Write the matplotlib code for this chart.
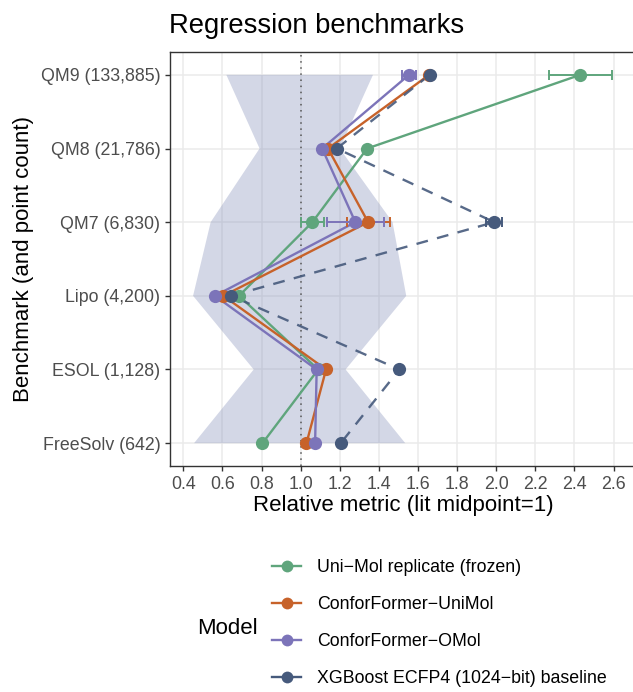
import numpy as np
import matplotlib
matplotlib.use("Agg")
from matplotlib import pyplot as plt
from matplotlib.lines import Line2D

plt.rcParams['font.family'] = ['Liberation Sans', 'DejaVu Sans']

benchmarks = ["QM9 (133,885)", "QM8 (21,786)", "QM7 (6,830)",
              "Lipo (4,200)", "ESOL (1,128)", "FreeSolv (642)"]

# literature range (relative to lit midpoint)
lit_low = [0.62, 0.79, 0.54, 0.45, 0.76, 0.455]
lit_high = [1.37, 1.20, 1.47, 1.54, 1.23, 1.535]

models = ["Uni\u2212Mol replicate (frozen)", "ConforFormer\u2212UniMol",
          "ConforFormer\u2212OMol", "XGBoost ECFP4 (1024\u2212bit) baseline"]
colors = ["#5FA57C", "#C7622A", "#7C74B9", "#465A7C"]
styles = ["-", "-", "-", (0, (5, 4))]

unimol = [2.43, 1.34, 1.06, 0.685, 1.09, 0.805]
unimol_err = [0.16, 0, 0.058, 0, 0, 0]
cf_unimol = [1.657, 1.14, 1.345, 0.605, 1.13, 1.03]
cf_unimol_err = [0, 0, 0.11, 0, 0, 0]
cf_omol = [1.554, 1.11, 1.28, 0.562, 1.082, 1.074]
cf_omol_err = [0.038, 0, 0.145, 0, 0, 0]
xgb = [1.66, 1.185, 1.99, 0.645, 1.505, 1.205]
xgb_err = [0, 0, 0.04, 0, 0, 0]

values = [unimol, cf_unimol, cf_omol, xgb]
errors = [unimol_err, cf_unimol_err, cf_omol_err, xgb_err]

W, H = 633, 692
fig = plt.figure(figsize=(W / 100, H / 100), dpi=100)
ax = fig.add_axes([170 / W, 1 - 466 / H, 466 / W, 414 / H])

ypos = np.arange(len(benchmarks))[::-1]

# shaded literature band
poly_x = list(lit_low) + list(lit_high)[::-1]
poly_y = list(ypos) + list(ypos)[::-1]
ax.fill(poly_x, poly_y, color=(140 / 255, 150 / 255, 190 / 255), alpha=0.38,
        lw=0, zorder=2)
ax.axvline(1.0, color="#555555", ls=(0, (1, 3)), lw=1.1, zorder=3)

for vals, errs, c, ls in zip(values, errors, colors, styles):
    vals = np.array(vals)
    errs = np.array(errs)
    ax.plot(vals, ypos, color=c, ls=ls, lw=1.7, zorder=4, alpha=0.9 if ls != "-" else 1)
    m = errs > 0
    ax.errorbar(vals[m], ypos[m], xerr=errs[m], fmt="none", ecolor=c,
                elinewidth=1.4, capsize=3.5, capthick=1.4, zorder=5)
    ax.plot(vals, ypos, ls="none", marker="o", ms=9.5, color=c, mec="none", zorder=6)

ax.set_xlim(0.332, 2.715)
ax.set_ylim(-0.31, 5.31)
ax.set_xticks(np.arange(0.4, 2.61, 0.2))
ax.set_xticklabels([f"{t:.1f}" for t in np.arange(0.4, 2.61, 0.2)])
ax.set_yticks(ypos)
ax.set_yticklabels(benchmarks)
ax.grid(True, color="#EBEBEB", lw=1.1, zorder=0)
ax.set_axisbelow(True)
ax.tick_params(axis="both", labelsize=12.8, labelcolor="#4D4D4D", color="#333333",
               length=3.5, width=1)
for s in ["left", "top", "bottom"]:
    ax.spines[s].set_color("#333333")
    ax.spines[s].set_linewidth(1)
ax.spines["right"].set_visible(False)

ax.set_xlabel("Relative metric (lit midpoint=1)", fontsize=16, labelpad=2)
ax.set_ylabel("Benchmark (and point count)", fontsize=16, labelpad=5)
fig.text(169 / W, 1 - 33 / H, "Regression benchmarks", fontsize=19.7, va="baseline", ha="left")

handles = [Line2D([0], [0], color=c, lw=1.7, marker="o", ms=8.5, mec="none") for c in colors]
fig.legend(handles, models, loc="upper left", bbox_to_anchor=(272 / W, 1 - 559 / H),
           frameon=False, fontsize=12.8, borderpad=0, borderaxespad=0,
           labelspacing=1.13, handlelength=1.65, handletextpad=0.9)
fig.text(197 / W, 1 - 628 / H, "Model", fontsize=16, va="center", ha="left")

fig.savefig("out.png", dpi=100)
